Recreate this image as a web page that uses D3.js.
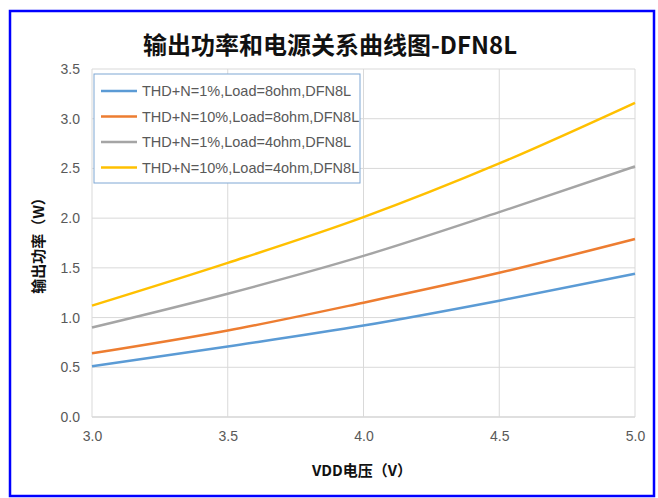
<!DOCTYPE html>
<html>
<head>
<meta charset="utf-8">
<script src="https://cdn.jsdelivr.net/npm/d3@7"></script>
<style>
  body { margin: 0; background: #fff; }
  text { font-family: "Liberation Sans", "Noto Sans CJK SC", sans-serif; }
</style>
</head>
<body>
<div id="chart"></div>
<script>
// chart values
const voltages = [3.0, 3.5, 4.0, 4.5, 5.0];
const seriesNames = [
    "THD+N=1%,Load=8ohm,DFN8L",
    "THD+N=10%,Load=8ohm,DFN8L",
    "THD+N=1%,Load=4ohm,DFN8L",
    "THD+N=10%,Load=4ohm,DFN8L"
];
const power1pct8ohm = [0.51, 0.71, 0.92, 1.17, 1.44];
const power10pct8ohm = [0.64, 0.87, 1.15, 1.45, 1.79];
const power1pct4ohm = [0.90, 1.24, 1.62, 2.06, 2.52];
const power10pct4ohm = [1.12, 1.55, 2.01, 2.55, 3.16];
const xTicks = [3.0, 3.5, 4.0, 4.5, 5.0];
const yTicks = [0.0, 0.5, 1.0, 1.5, 2.0, 2.5, 3.0, 3.5];

const colors = ["#5B9BD5", "#ED7D31", "#A5A5A5", "#FFC000"];
const allSeries = [power1pct8ohm, power10pct8ohm, power1pct4ohm, power10pct4ohm];

const W = 658, H = 498;
const margin = { top: 69, right: 23, bottom: 81, left: 92 };
const width = W - margin.left - margin.right,
    height = H - margin.top - margin.bottom;

const svg = d3.select("#chart").append("svg")
    .attr("width", W)
    .attr("height", H);

// outer blue frame
svg.append("rect")
    .attr("x", 10).attr("y", 11)
    .attr("width", 644).attr("height", 485)
    .attr("fill", "none")
    .attr("stroke", "#0000ff")
    .attr("stroke-width", 2.5);

// title
svg.append("text")
    .attr("x", 330).attr("y", 54)
    .attr("text-anchor", "middle")
    .style("font-family", "'Noto Sans CJK SC', sans-serif")
    .style("font-size", "24px")
    .style("font-weight", "bold")
    .attr("fill", "#111")
    .text("输出功率和电源关系曲线图-DFN8L");

const g = svg.append("g")
    .attr("transform", `translate(${margin.left},${margin.top})`);

const x = d3.scaleLinear().domain([3.0, 5.0]).range([0, width]);
const y = d3.scaleLinear().domain([0, 3.5]).range([height, 0]);

// gridlines
g.append("g")
    .selectAll("line.h")
    .data(yTicks)
    .enter().append("line")
    .attr("x1", 0).attr("x2", width)
    .attr("y1", d => y(d)).attr("y2", d => y(d))
    .attr("stroke", d => d === 0 ? "#bfbfbf" : "#d9d9d9")
    .attr("stroke-width", 1);

g.append("g")
    .selectAll("line.v")
    .data(xTicks)
    .enter().append("line")
    .attr("x1", d => x(d)).attr("x2", d => x(d))
    .attr("y1", 0).attr("y2", height)
    .attr("stroke", "#d9d9d9")
    .attr("stroke-width", 1);

// axes (labels only)
const xAxis = g.append("g")
    .attr("transform", `translate(0,${height})`)
    .call(d3.axisBottom(x).tickValues(xTicks).tickFormat(d3.format(".1f")).tickSize(0).tickPadding(14));
const yAxis = g.append("g")
    .call(d3.axisLeft(y).tickValues(yTicks).tickFormat(d3.format(".1f")).tickSize(0).tickPadding(12));
[xAxis, yAxis].forEach(a => {
    a.select(".domain").remove();
    a.selectAll("text")
        .style("font-size", "14px")
        .style("font-family", "'Liberation Sans Narrow', 'Liberation Sans', sans-serif")
        .attr("fill", "#595959");
});

// lines
const line = d3.line()
    .x((d, i) => x(voltages[i]))
    .y(d => y(d))
    .curve(d3.curveMonotoneX);

g.selectAll(".series")
    .data(allSeries)
    .enter().append("path")
    .attr("class", "series")
    .attr("d", line)
    .attr("fill", "none")
    .attr("stroke", (d, i) => colors[i])
    .attr("stroke-width", 2.5);

// legend
const legend = svg.append("g").attr("transform", "translate(94,74)");
legend.append("rect")
    .attr("width", 266).attr("height", 109)
    .attr("fill", "#fff")
    .attr("stroke", "#7fa7d4")
    .attr("stroke-width", 1);
seriesNames.forEach((name, i) => {
    const row = legend.append("g").attr("transform", `translate(0,${17 + i * 25.5})`);
    row.append("line")
        .attr("x1", 7).attr("x2", 43)
        .attr("stroke", colors[i])
        .attr("stroke-width", 2.5);
    row.append("text")
        .attr("x", 48).attr("y", 5)
        .style("font-size", "14.5px")
        .attr("fill", "#595959")
        .text(name);
});

// axis titles
svg.append("text")
    .attr("x", 362).attr("y", 476)
    .attr("text-anchor", "middle")
    .style("font-family", "'Noto Sans CJK SC', sans-serif")
    .style("font-size", "15px")
    .style("font-weight", "bold")
    .attr("fill", "#111")
    .text("VDD电压（V）");

svg.append("text")
    .attr("transform", "translate(44,242) rotate(-90)")
    .attr("text-anchor", "middle")
    .style("font-family", "'Noto Sans CJK SC', sans-serif")
    .style("font-size", "15px")
    .style("font-weight", "bold")
    .attr("fill", "#111")
    .text("输出功率（W）");
</script>
</body>
</html>
